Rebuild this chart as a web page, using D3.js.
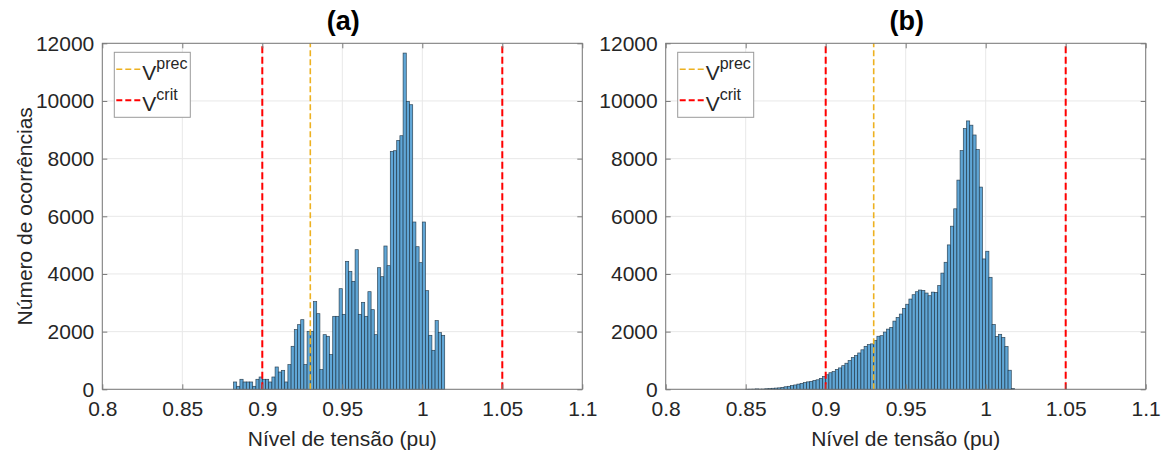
<!DOCTYPE html>
<html>
<head>
<meta charset="utf-8">
<script src="https://cdn.jsdelivr.net/npm/d3@7/dist/d3.min.js"></script>
<style>
  body { margin: 0; background: #fff; }
  svg { display: block; }
  text { font-family: "Liberation Sans", Arial, sans-serif; }
</style>
</head>
<body>
<svg id="chart" width="1169" height="454"></svg>
<script>
// Histogram bin width (pu) shared by both panels
const binWidth = 0.002;

// Panel (a): first bin edge and occurrence counts per bin
const startA = 0.882;
const countsA = [
  254, 104, 347, 254, 254, 254, 104, 347, 427, 347,
  347, 254, 427, 774, 600, 658, 254, 855, 1491, 2069,
  2242, 2415, 855, 2011, 2011, 3040, 2623, 682, 1895, 1838,
  1202, 2531, 2531, 3490, 2600, 4438, 4091, 3744, 4842, 2600,
  3016, 2531, 3386, 2762, 1895, 4218, 3906, 4970, 4288, 8252,
  8275, 8633, 8795, 11661, 9985, 9870, 5802, 4946, 4392, 5802,
  3421, 1872, 1352, 2381, 1965, 1872
];

// Panel (b): first bin edge and occurrence counts per bin
const startB = 0.850;
const countsB = [
  2, 4, 6, 15, 8, 10, 20, 24, 35, 42,
  50, 65, 88, 104, 128, 151, 180, 205, 235, 258,
  275, 305, 330, 378, 445, 505, 575, 614, 690, 742,
  820, 904, 997, 1101, 1171, 1260, 1370, 1490, 1550, 1575,
  1690, 1840, 1860, 1985, 2087, 2145, 2365, 2493, 2609, 2806,
  2950, 3130, 3281, 3385, 3443, 3430, 3339, 3246, 3370, 3362,
  3600, 4030, 4405, 5008, 5657, 6260, 7255, 8277, 9042, 9308,
  9160, 8820, 8312, 7013, 4521, 4788, 3884, 2249, 1832, 1907,
  1797, 1484, 661, 23
];

const xTickValues = [0.8, 0.85, 0.9, 0.95, 1.0, 1.05, 1.1];
const xTickLabels = ["0.8", "0.85", "0.9", "0.95", "1", "1.05", "1.1"];
const yTickValues = [0, 2000, 4000, 6000, 8000, 10000, 12000];
const yTickLabels = ["0", "2000", "4000", "6000", "8000", "10000", "12000"];

const panelTitles = ["(a)", "(b)"];
const precVoltage = 0.93;          // precarious limit
const critVoltages = [0.9, 1.05];  // critical limits
const legendBase = ["V", "V"];
const legendSup = ["prec", "crit"];
const xLabel = "Nível de tensão (pu)";
const yLabel = "Número de ocorrências";

// Colours
const barFill = "rgb(96,166,214)";
const precColor = "#EDB120";
const critColor = "#FF0000";
const axisColor = "#7a7a7a";
const gridColor = "#e8e8e8";
const textColor = "#262626";

function toBins(start, counts) {
  return counts.map((c, i) => ({
    x0: Math.round((start + i * binWidth) * 1e4) / 1e4,
    x1: Math.round((start + (i + 1) * binWidth) * 1e4) / 1e4,
    count: c
  }));
}

const svg = d3.select("#chart");

const panels = [
  { left: 102.3, top: 43.3, width: 480, height: 346, bins: toBins(startA, countsA), title: panelTitles[0], showYLabel: true },
  { left: 665.7, top: 43.3, width: 480, height: 346, bins: toBins(startB, countsB), title: panelTitles[1], showYLabel: false }
];

panels.forEach(p => {
  const g = svg.append("g");
  const x = d3.scaleLinear().domain([0.8, 1.1]).range([p.left, p.left + p.width]);
  const y = d3.scaleLinear().domain([0, 12000]).range([p.top + p.height, p.top]);

  // grid
  g.append("g").selectAll("line").data(xTickValues).join("line")
    .attr("x1", d => x(d)).attr("x2", d => x(d))
    .attr("y1", p.top).attr("y2", p.top + p.height)
    .attr("stroke", gridColor).attr("stroke-width", 1);
  g.append("g").selectAll("line").data(yTickValues).join("line")
    .attr("x1", p.left).attr("x2", p.left + p.width)
    .attr("y1", d => y(d)).attr("y2", d => y(d))
    .attr("stroke", gridColor).attr("stroke-width", 1);

  // histogram bars
  g.append("g").selectAll("rect").data(p.bins).join("rect")
    .attr("x", d => x(d.x0))
    .attr("width", d => x(d.x1) - x(d.x0))
    .attr("y", d => y(d.count))
    .attr("height", d => y(0) - y(d.count))
    .attr("fill", barFill)
    .attr("stroke", "#1a2f40")
    .attr("stroke-opacity", 0.85)
    .attr("stroke-width", 0.7);

  // limit lines
  critVoltages.forEach(v => {
    g.append("line")
      .attr("x1", x(v)).attr("x2", x(v))
      .attr("y1", y(0)).attr("y2", y(12000))
      .attr("stroke", critColor).attr("stroke-width", 2)
      .attr("stroke-dasharray", "7,3.5");
  });
  g.append("line")
    .attr("x1", x(precVoltage)).attr("x2", x(precVoltage))
    .attr("y1", y(0)).attr("y2", y(12000))
    .attr("stroke", precColor).attr("stroke-width", 1.6)
    .attr("stroke-dasharray", "6,3");

  // axes (ticks point inward)
  const fmtX = d => xTickLabels[xTickValues.indexOf(d)];
  const fmtY = d => yTickLabels[yTickValues.indexOf(d)];
  const styleAxis = sel => {
    sel.select(".domain").remove();
    sel.selectAll(".tick line").attr("stroke", axisColor);
    sel.selectAll(".tick text").attr("fill", textColor).style("font-size", "21px")
      .style("font-family", "'Liberation Sans', Arial, sans-serif");
  };
  g.append("g").attr("transform", `translate(0,${p.top + p.height})`)
    .call(d3.axisBottom(x).tickValues(xTickValues).tickFormat(fmtX).tickSize(-5).tickPadding(12))
    .call(styleAxis);
  g.append("g").attr("transform", `translate(0,${p.top})`)
    .call(d3.axisTop(x).tickValues(xTickValues).tickFormat("").tickSize(-5))
    .call(styleAxis);
  g.append("g").attr("transform", `translate(${p.left},0)`)
    .call(d3.axisLeft(y).tickValues(yTickValues).tickFormat(fmtY).tickSize(-5).tickPadding(8))
    .call(styleAxis);
  g.append("g").attr("transform", `translate(${p.left + p.width},0)`)
    .call(d3.axisRight(y).tickValues(yTickValues).tickFormat("").tickSize(-5))
    .call(styleAxis);

  // frame
  g.append("rect")
    .attr("x", p.left).attr("y", p.top)
    .attr("width", p.width).attr("height", p.height)
    .attr("fill", "none").attr("stroke", axisColor).attr("stroke-width", 1);

  // title
  g.append("text")
    .attr("x", p.left + p.width / 2 + 1).attr("y", 30)
    .attr("text-anchor", "middle")
    .attr("font-weight", "bold").attr("font-size", 27)
    .attr("fill", "#000")
    .text(p.title);

  // x label
  g.append("text")
    .attr("x", p.left + p.width / 2).attr("y", 446)
    .attr("text-anchor", "middle")
    .attr("font-size", 21).attr("fill", textColor)
    .text(xLabel);

  if (p.showYLabel) {
    g.append("text")
      .attr("transform", `translate(32,${p.top + p.height / 2}) rotate(-90)`)
      .attr("text-anchor", "middle")
      .attr("font-size", 21).attr("fill", textColor)
      .text(yLabel);
  }

  // legend
  const lx = p.left + 12, ly = p.top + 9;
  const lg = g.append("g");
  lg.append("rect")
    .attr("x", lx).attr("y", ly).attr("width", 76).attr("height", 65)
    .attr("fill", "#fff").attr("stroke", "#9a9a9a").attr("stroke-width", 1);
  const entries = [
    { color: precColor, width: 1.6, base: legendBase[0], sup: legendSup[0], yLine: ly + 17, yText: ly + 28 },
    { color: critColor, width: 2, base: legendBase[1], sup: legendSup[1], yLine: ly + 48, yText: ly + 59 }
  ];
  entries.forEach(e => {
    lg.append("line")
      .attr("x1", lx + 2).attr("x2", lx + 26)
      .attr("y1", e.yLine).attr("y2", e.yLine)
      .attr("stroke", e.color).attr("stroke-width", e.width)
      .attr("stroke-dasharray", "6,3");
    const t = lg.append("text")
      .attr("x", lx + 28).attr("y", e.yText)
      .attr("fill", textColor).attr("font-size", 21);
    t.append("tspan").text(e.base);
    t.append("tspan").attr("dy", -11).attr("font-size", 16).text(e.sup);
  });
});
</script>
</body>
</html>
